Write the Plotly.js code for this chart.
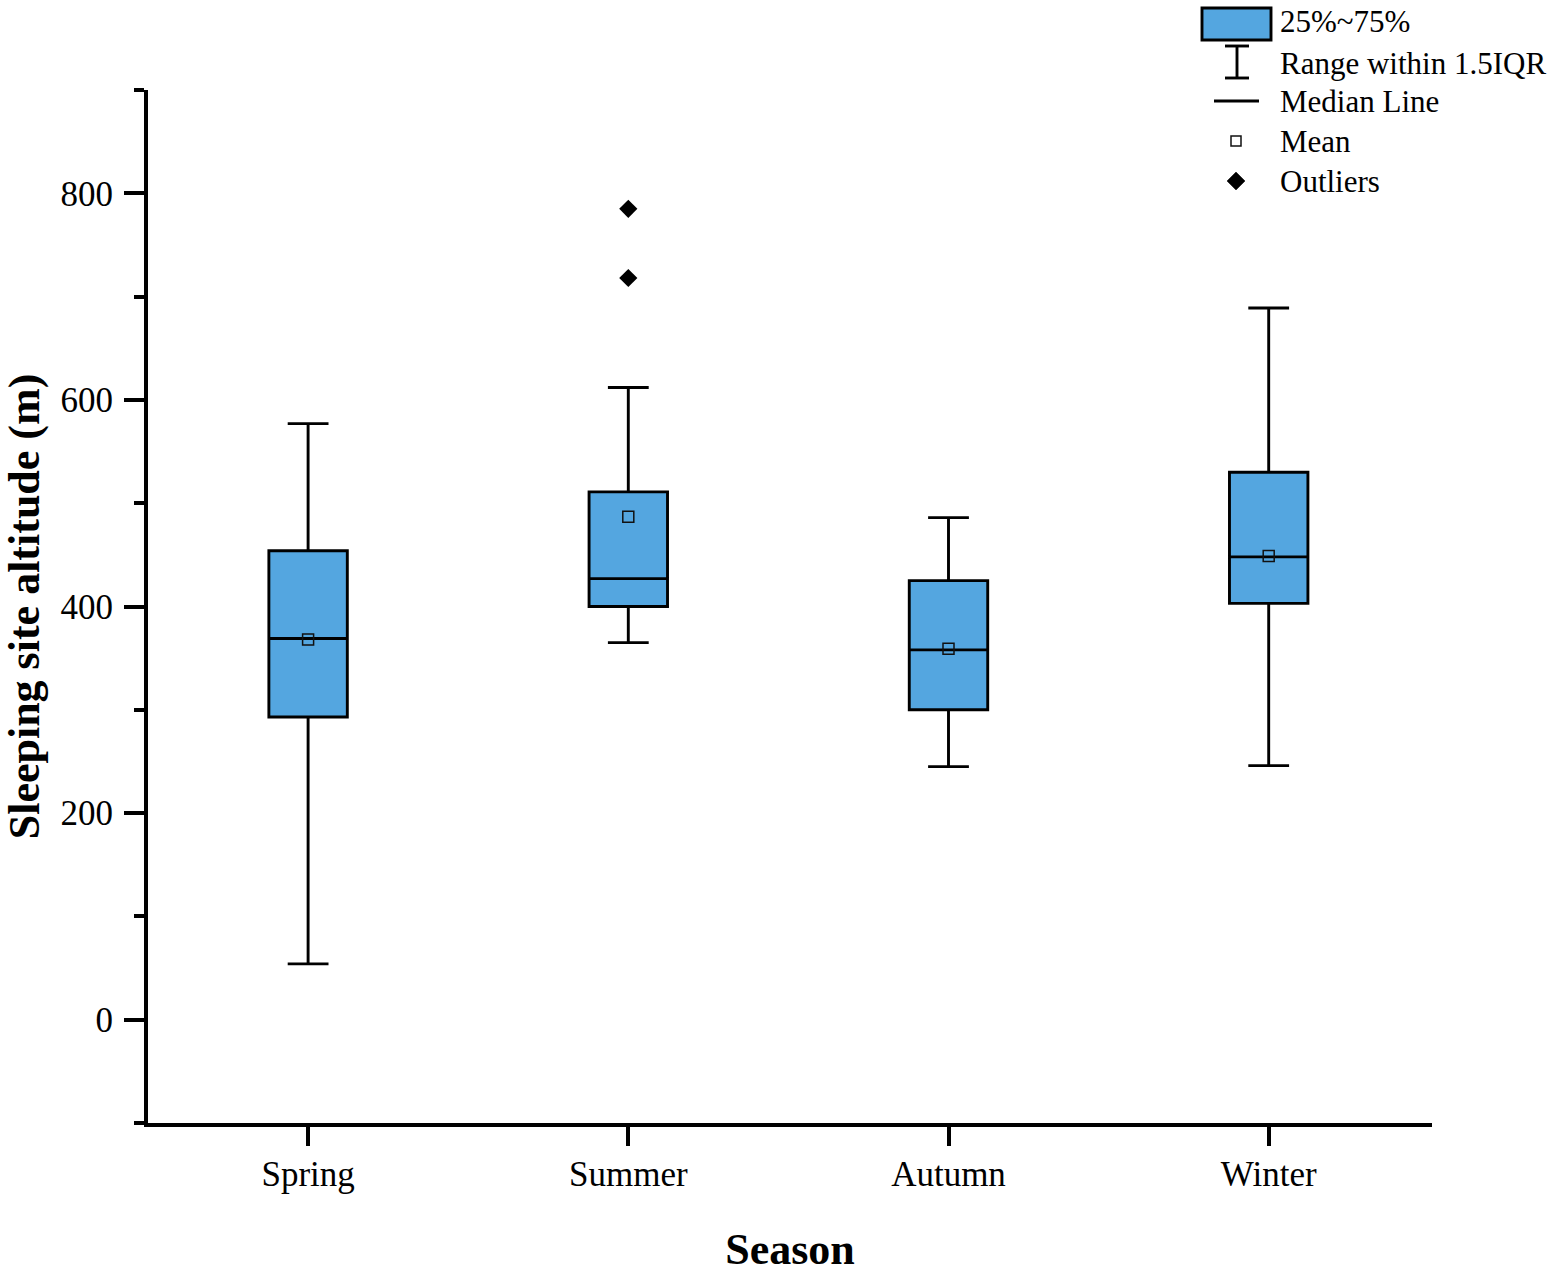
<!DOCTYPE html>
<html>
<head>
<meta charset="utf-8">
<script src="https://cdn.plot.ly/plotly-3.0.1.min.js"></script>
<style>
html, body { margin: 0; padding: 0; background: #fff; }
#chart { width: 1559px; height: 1274px; }
</style>
</head>
<body>
<div id="chart"></div>
<script>
// ---- data ----
const seasons      = ["Spring", "Summer", "Autumn", "Winter"];
const lowerWhisker = [54, 365, 245, 246];
const q1Values     = [293, 400, 300, 403];
const medianValues = [369, 427, 358, 448];
const q3Values     = [454, 511, 425, 530];
const upperWhisker = [577, 612, 486, 689];
const meanValues   = [368, 487, 359, 449];
const outlierSeason = ["Summer", "Summer"];
const outlierValues = [785, 718];
const yTickValues  = [0, 200, 400, 600, 800];

const FONT = "Liberation Serif, 'Times New Roman', serif";
const BLUE = "rgb(84,166,224)";

const traces = [
  {
    type: "box",
    x: seasons,
    q1: q1Values,
    median: medianValues,
    q3: q3Values,
    lowerfence: lowerWhisker,
    upperfence: upperWhisker,
    boxpoints: false,
    width: 0.245,
    whiskerwidth: 0.52,
    fillcolor: BLUE,
    line: { color: "#000", width: 2.9 },
    showlegend: false,
    hoverinfo: "skip"
  },
  {
    type: "scatter",
    mode: "markers",
    x: seasons,
    y: meanValues,
    marker: { symbol: "square-open", size: 11, color: "#111", line: { width: 1.5, color: "#111" } },
    showlegend: false,
    hoverinfo: "skip"
  },
  {
    type: "scatter",
    mode: "markers",
    x: outlierSeason,
    y: outlierValues,
    marker: { symbol: "diamond", size: 14, color: "#000" },
    showlegend: false,
    hoverinfo: "skip"
  }
];

// legend drawn by hand (paper coordinates: px -> (px-148)/1284, py -> (1123-py)/1033)
const PX = px => (px - 148) / 1284;
const PY = py => (1123 - py) / 1033;

const legendItems = ["25%~75%", "Range within 1.5IQR", "Median Line", "Mean", "Outliers"];
const legendY = [22, 63, 102, 142, 181];

const shapes = [
  { type: "rect", xref: "paper", yref: "paper", x0: PX(1202), x1: PX(1271), y0: PY(40), y1: PY(8),
    fillcolor: BLUE, line: { color: "#000", width: 2.9 } },
  { type: "line", xref: "paper", yref: "paper", x0: PX(1237), x1: PX(1237), y0: PY(46), y1: PY(78), line: { color: "#000", width: 2.9 } },
  { type: "line", xref: "paper", yref: "paper", x0: PX(1225), x1: PX(1249), y0: PY(46), y1: PY(46), line: { color: "#000", width: 2.9 } },
  { type: "line", xref: "paper", yref: "paper", x0: PX(1225), x1: PX(1249), y0: PY(78), y1: PY(78), line: { color: "#000", width: 2.9 } },
  { type: "line", xref: "paper", yref: "paper", x0: PX(1214), x1: PX(1259), y0: PY(101), y1: PY(101), line: { color: "#000", width: 2.9 } },
  { type: "rect", xref: "paper", yref: "paper", x0: PX(1231), x1: PX(1241), y0: PY(146), y1: PY(136), line: { color: "#111", width: 1.5 }, fillcolor: "rgba(0,0,0,0)" },
  { type: "path", xref: "paper", yref: "paper",
    path: `M ${PX(1236)} ${PY(172)} L ${PX(1245)} ${PY(181)} L ${PX(1236)} ${PY(190)} L ${PX(1227)} ${PY(181)} Z`,
    fillcolor: "#000", line: { color: "#000", width: 0.5 } }
];

const annotations = legendItems.map((t, i) => ({
  xref: "paper", yref: "paper", x: PX(1278), y: PY(legendY[i]),
  xanchor: "left", yanchor: "middle", showarrow: false, text: t,
  font: { family: FONT, size: 31, color: "#000" }
}));

const layout = {
  width: 1559,
  height: 1274,
  margin: { l: 148, r: 127, t: 90, b: 151, pad: 0 },
  paper_bgcolor: "#fff",
  plot_bgcolor: "#fff",
  showlegend: false,
  font: { family: FONT, color: "#000" },
  xaxis: {
    type: "category",
    categoryorder: "array",
    categoryarray: seasons,
    range: [-0.5, 3.51],
    showgrid: false,
    zeroline: false,
    showline: true,
    linecolor: "#000",
    linewidth: 4,
    ticks: "outside",
    ticklen: 19,
    tickwidth: 4,
    tickcolor: "#000",
    ticklabelstandoff: -2,
    tickfont: { family: FONT, size: 35, color: "#000" },
    title: { text: "Season", font: { family: FONT, size: 44, weight: 700, color: "#000" }, standoff: 47 }
  },
  yaxis: {
    range: [-100, 900],
    showgrid: false,
    zeroline: false,
    showline: true,
    linecolor: "#000",
    linewidth: 4,
    ticks: "outside",
    ticklen: 20,
    tickwidth: 4,
    tickcolor: "#000",
    tickmode: "array",
    tickvals: yTickValues,
    ticktext: yTickValues.map(String),
    ticklabelstandoff: 4,
    minor: { tickmode: "linear", tick0: -100, dtick: 100, ticks: "outside", ticklen: 10, tickwidth: 4, tickcolor: "#000", showgrid: false },
    tickfont: { family: FONT, size: 35, color: "#000" },
    title: { text: "Sleeping site altitude (m)", font: { family: FONT, size: 44, weight: 700, color: "#000" }, standoff: 20 }
  },
  shapes: shapes,
  annotations: annotations
};

Plotly.newPlot("chart", traces, layout, { staticPlot: true, displayModeBar: false });
</script>
</body>
</html>
